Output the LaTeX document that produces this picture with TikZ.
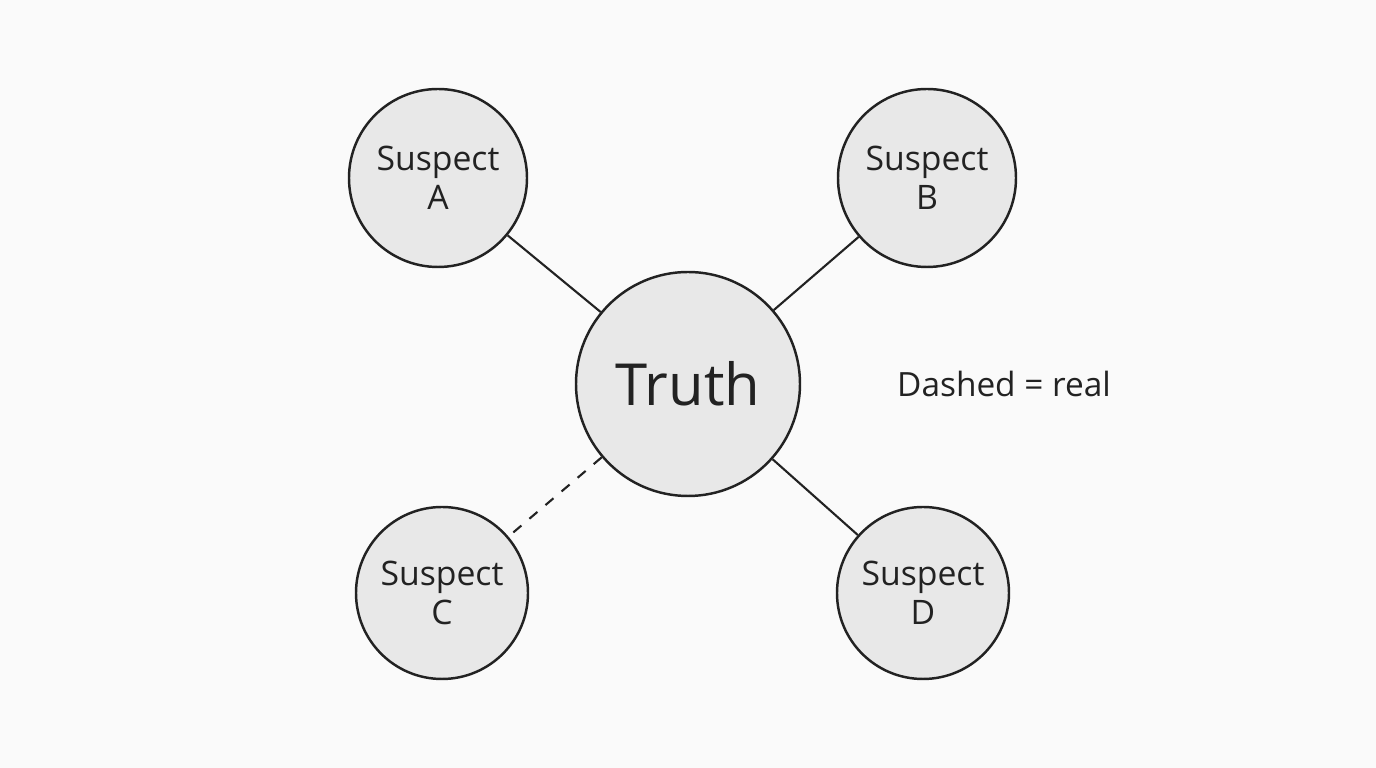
\documentclass[tikz,border=0pt]{standalone}
\usepackage{fontspec}
\setmainfont{Open Sans}
\definecolor{bubble}{HTML}{E8E8E8}
\definecolor{ink}{HTML}{222222}
\begin{document}
\begin{tikzpicture}[
  suspect/.style={circle, draw=ink, line width=0.7pt, fill=bubble, minimum size=1.74cm,
    inner sep=1pt, align=center, font=\fontsize{9.6}{11.2}\selectfont, text=ink},
  link/.style={draw=ink, line width=0.6pt}
]
		% Frame
		\fill[white!98!black] (0,0) rectangle (13.76,7.68);
		\useasboundingbox (0,0) rectangle (13.76,7.68);
		
		% Nodes
		\node[suspect, minimum size=2.24cm, font=\fontsize{16.5}{20}\selectfont] (truth) at (6.88,3.84) {Truth};
		\node[suspect, minimum size=1.78cm] (sa) at (4.38,5.90) {Suspect\\A};
		\node[suspect, minimum size=1.78cm] (sb) at (9.27,5.90) {Suspect\\B};
		\node[suspect, minimum size=1.72cm] (sc) at (4.42,1.75) {Suspect\\C};
		\node[suspect, minimum size=1.72cm] (sd) at (9.23,1.75) {Suspect\\D};
		\node[font=\fontsize{9.5}{12}\selectfont, text=ink] (legend) at (10.04,3.84) {Dashed = real};
		
		% Links
		\draw[link] (truth) -- (sa);
		\draw[link] (truth) -- (sb);
		\draw[link, dashed] (truth) -- (sc);
		\draw[link] (truth) -- (sd);
\end{tikzpicture}
\end{document}
